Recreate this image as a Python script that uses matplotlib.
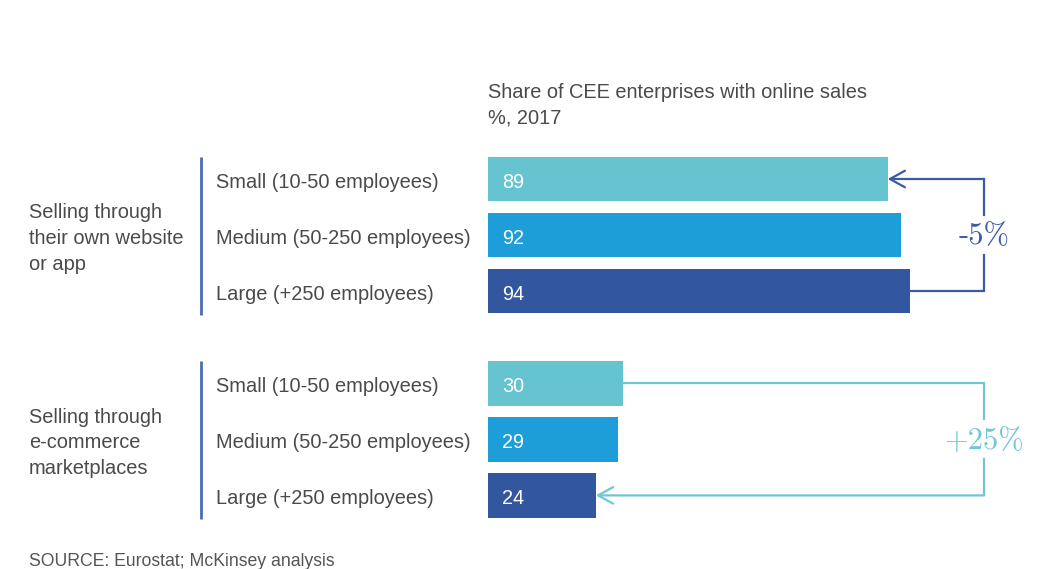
import matplotlib.pyplot as plt

# donnees
groupes = ["Selling through\ntheir own website\nor app",
           "Selling through\ne-commerce\nmarketplaces"]
tailles = ["Small (10-50 employees)",
           "Medium (50-250 employees)",
           "Large (+250 employees)"]
site_propre = [89, 92, 94]
marketplaces = [30, 29, 24]
variations = ["-5%", "+25%"]

titre_1 = "Share of CEE enterprises with online sales"
titre_2 = "%, 2017"
source = "SOURCE: Eurostat; McKinsey analysis"

# style
COULEURS = ["#66c4d1", "#1e9ed9", "#32579f"]
BLEU_FONCE = "#3a5aa6"
TURQUOISE = "#6fc7d4"
GRIS = "#4a4a4a"
POLICE = "Liberation Sans"

# mise en page (pixels de la figure)
W, H = 1046, 569
X0 = 488          # debut des barres
PX_UNITE = 4.49   # pixels par point de %
Y0 = 179          # centre de la premiere barre
PX_LIGNE = 56     # ecart entre barres
DECAL = 3.5 / PX_LIGNE   # petit decalage vertical du texte

def hx(px):
    return (px - X0) / PX_UNITE

def hy(py):
    return (py - Y0) / PX_LIGNE

fig = plt.figure(figsize=(W / 100, H / 100), dpi=100, facecolor="white")
ax = fig.add_axes([0, 0, 1, 1])
ax.set_xlim(hx(0), hx(W))
ax.set_ylim(hy(H), hy(0))
ax.axis("off")

lignes_g1 = [0, 1, 2]
lignes_g2 = [3.65, 4.65, 5.65]
hauteur = 0.79

for lignes, valeurs, groupe, var, coul_var in [
        (lignes_g1, site_propre, groupes[0], variations[0], BLEU_FONCE),
        (lignes_g2, marketplaces, groupes[1], variations[1], TURQUOISE)]:
    ax.barh(lignes, valeurs, height=hauteur, color=COULEURS, zorder=2)
    for y, v, t in zip(lignes, valeurs, tailles):
        ax.text(hx(502), y + DECAL, str(v), color="white", fontsize=14.3,
                family=POLICE, va="center", ha="left", zorder=3)
        ax.text(hx(216), y + DECAL, t, color=GRIS, fontsize=14.4,
                family=POLICE, va="center", ha="left")
    # trait vertical du groupe
    ax.plot([hx(201), hx(201)], [lignes[0] - 0.40, lignes[-1] + 0.42],
            color="#4a6db3", lw=2, solid_capstyle="butt")
    ax.text(hx(29), lignes[1] + DECAL, groupe, color=GRIS, fontsize=14.4,
            family=POLICE, va="center", ha="left", linespacing=1.45)

    # accolade avec fleche
    xr = hx(984)
    y_mid = lignes[1]
    gap = 20 / PX_LIGNE
    if valeurs is site_propre:
        y_dep, v_dep = lignes[2], valeurs[2]
        y_arr, v_arr = lignes[0], valeurs[0]
    else:
        y_dep, v_dep = lignes[0], valeurs[0]
        y_arr, v_arr = lignes[2], valeurs[2]
    sens = 1 if y_arr > y_mid else -1
    ax.plot([v_dep, xr, xr], [y_dep, y_dep, y_mid - sens * gap],
            color=coul_var, lw=1.6, solid_joinstyle="miter")
    ax.plot([xr, xr], [y_mid + sens * gap, y_arr],
            color=coul_var, lw=1.6)
    ax.annotate("", xy=(v_arr, y_arr), xytext=(xr, y_arr),
                arrowprops=dict(arrowstyle="->,head_length=0.6,head_width=0.33",
                                mutation_scale=18, color=coul_var, lw=1.6,
                                shrinkA=0, shrinkB=0))
    ax.text(xr, y_mid + 1.5 / PX_LIGNE, var, color=coul_var, fontsize=22,
            family="cmr10", ha="center", va="center")

ax.text(hx(488), hy(92), titre_1, color=GRIS, fontsize=14.4,
        family=POLICE, va="center", ha="left")
ax.text(hx(488), hy(118), titre_2, color=GRIS, fontsize=14.4,
        family=POLICE, va="center", ha="left")
ax.text(hx(29), hy(561), source, color="#555555", fontsize=12.7,
        family=POLICE, va="center", ha="left")

plt.savefig("out.png", dpi=100, facecolor="white")
